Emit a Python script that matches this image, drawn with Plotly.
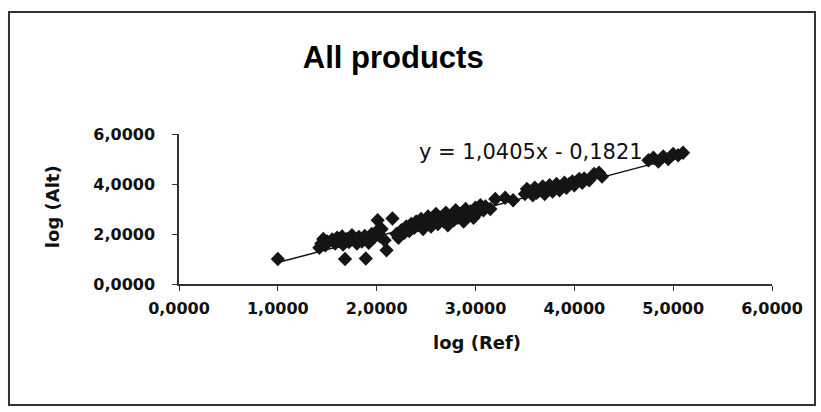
import plotly.graph_objects as go

# log10 of reference price vs log10 of alternative price, one point per product
log_ref = [
    1.00,
    1.42, 1.44, 1.46, 1.48, 1.50, 1.55, 1.58, 1.60, 1.62, 1.65, 1.66,
    1.68,
    1.70, 1.72, 1.75, 1.78, 1.80, 1.82, 1.85, 1.88, 1.89, 1.90, 1.92, 1.95, 1.97,
    2.00, 2.01, 2.03, 2.05, 2.08, 2.10, 2.16,
    2.20, 2.22, 2.25, 2.28, 2.30, 2.33, 2.35, 2.38, 2.40, 2.42, 2.45, 2.47,
    2.50, 2.52, 2.55, 2.57, 2.60, 2.62, 2.65, 2.68, 2.70, 2.72, 2.75, 2.78,
    2.80, 2.82, 2.85, 2.88, 2.90, 2.93, 2.95, 2.98,
    3.00, 3.02, 3.05, 3.08, 3.10, 3.15, 3.20, 3.30, 3.38,
    3.50, 3.52, 3.55, 3.58, 3.60, 3.62, 3.65, 3.68, 3.70, 3.72, 3.75, 3.78,
    3.80, 3.82, 3.85, 3.88, 3.90, 3.92, 3.95, 3.98, 4.00, 4.03, 4.05, 4.08,
    4.10, 4.15, 4.20, 4.25, 4.28,
    4.75, 4.80, 4.85, 4.90, 4.95, 5.00, 5.05, 5.10,
]
log_alt = [
    1.00,
    1.45, 1.62, 1.80, 1.55, 1.70, 1.78, 1.62, 1.85, 1.72, 1.90, 1.58,
    1.00,
    1.80, 1.68, 1.95, 1.75, 1.62, 1.88, 1.70, 1.92, 1.02, 1.80, 1.65, 2.00, 1.85,
    2.10, 2.55, 1.92, 2.20, 1.75, 1.35, 2.62,
    2.00, 1.85, 2.15, 2.05, 2.30, 2.12, 2.40, 2.25, 2.50, 2.35, 2.60, 2.20,
    2.45, 2.70, 2.30, 2.55, 2.80, 2.40, 2.65, 2.50, 2.85, 2.35, 2.70, 2.55,
    2.95, 2.65, 2.80, 2.50, 3.00, 2.75, 2.90, 2.65,
    3.05, 2.85, 3.15, 2.95, 3.10, 3.00, 3.40, 3.45, 3.35,
    3.60, 3.80, 3.70, 3.55, 3.85, 3.65, 3.75, 3.90, 3.60, 3.80, 3.95, 3.70,
    3.85, 4.00, 3.75, 3.92, 4.05, 3.85, 4.00, 4.10, 3.95, 4.12, 4.20, 4.05,
    4.22, 4.15, 4.40, 4.45, 4.30,
    4.95, 5.05, 4.90, 5.10, 5.00, 5.20, 5.15, 5.25,
]

# linear trendline coefficients
slope = 1.0405
intercept = -0.1821
equation = "y = 1,0405x - 0,1821"

title = "All products"
x_title = "log (Ref)"
y_title = "log (Alt)"
x_ticks = [0, 1, 2, 3, 4, 5, 6]
y_ticks = [0, 2, 4, 6]

ink = "#151515"

trend_x = [min(log_ref), max(log_ref)]
trend_y = [slope * v + intercept for v in trend_x]

fig = go.Figure()
fig.add_trace(go.Scatter(
    x=log_ref, y=log_alt, mode="markers",
    marker=dict(symbol="diamond", size=11, color=ink, line=dict(width=0)),
    hoverinfo="skip",
))
fig.add_trace(go.Scatter(
    x=trend_x, y=trend_y, mode="lines",
    line=dict(color=ink, width=1.5),
    hoverinfo="skip",
))

tick_font = dict(family="DejaVu Sans", size=16, color="#111", weight="bold")
axis_common = dict(
    range=[0, 6], showgrid=False, zeroline=False,
    showline=True, linecolor="#333", linewidth=1.5,
    ticks="outside", ticklen=5, tickwidth=1, tickcolor="#333",
    tickformat=".4f", tickfont=tick_font,
)

fig.update_layout(
    width=821, height=412,
    margin=dict(l=179, r=49, t=134, b=128, pad=0),
    paper_bgcolor="white", plot_bgcolor="white",
    showlegend=False,
    separators=",.",
    title=dict(
        text=title, xref="container", yref="container",
        x=0.479, y=1 - 57 / 412, xanchor="center", yanchor="middle",
        font=dict(family="Liberation Sans", size=31, color="#000", weight="bold"),
    ),
    xaxis=dict(tickvals=x_ticks, ticklabelstandoff=4, **axis_common),
    yaxis=dict(tickvals=y_ticks, ticklabelstandoff=14, **axis_common),
)

# axis titles and trendline label
fig.add_annotation(
    text=x_title, xref="paper", yref="paper", x=0.5025, y=-0.39,
    xanchor="center", yanchor="middle", showarrow=False,
    font=dict(family="DejaVu Sans", size=18, color="#111", weight="bold"),
)
fig.add_annotation(
    text=y_title, xref="paper", yref="paper", x=-0.214, y=0.513,
    xanchor="center", yanchor="middle", textangle=-90, showarrow=False,
    font=dict(family="DejaVu Sans", size=18, color="#111", weight="bold"),
)
fig.add_annotation(
    text=equation, xref="x", yref="y", x=2.41, y=5.3,
    xanchor="left", yanchor="middle", showarrow=False,
    font=dict(family="DejaVu Sans", size=21, color="#111"),
)

# chart frame
fig.add_shape(
    type="rect", xref="paper", yref="paper",
    x0=-0.2867, x1=1.0725, y0=-0.8067, y1=1.813,
    line=dict(color="#333", width=2), fillcolor="rgba(0,0,0,0)", layer="below",
)

fig.write_html("out.html")
